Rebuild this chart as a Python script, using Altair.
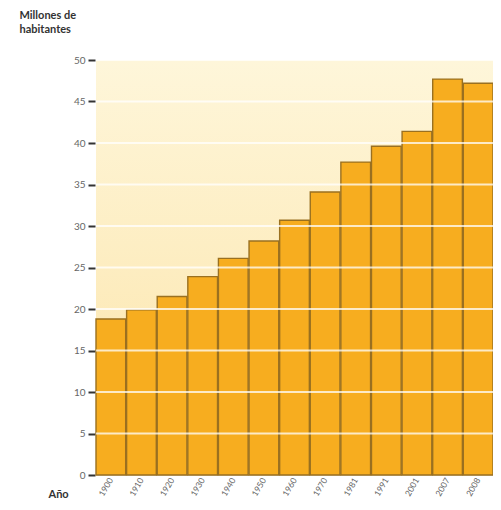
import altair as alt
import pandas as pd

years = ["1900", "1910", "1920", "1930", "1940", "1950", "1960", "1970", "1981", "1991", "2001", "2007", "2008"]
population = [18.8, 19.9, 21.5, 23.9, 26.1, 28.2, 30.7, 34.1, 37.7, 39.6, 41.4, 47.7, 47.2]
grid_values = [5, 10, 15, 20, 25, 30, 35, 40, 45, 50]

W, H = 397, 415

df = pd.DataFrame({"year": years, "pop": population})
gdf = pd.DataFrame({"v": grid_values})

bg = alt.Chart(gdf).mark_rect(
    color=alt.LinearGradient(
        gradient="linear", x1=0, x2=0, y1=0, y2=1,
        stops=[alt.GradientStop(color="#fef6da", offset=0),
               alt.GradientStop(color="#fce4a8", offset=1)],
    )
).encode(x=alt.value(0), x2=alt.value(W), y=alt.value(0), y2=alt.value(H))

bars = alt.Chart(df).mark_bar(
    color="#f7ad1f", stroke="#9a7020", strokeWidth=1.4
).encode(
    x=alt.X("year:N", sort=years,
            scale=alt.Scale(paddingInner=0.03, paddingOuter=0.0),
            axis=alt.Axis(title="Año", labelAngle=-60, labelAlign="right", labelBaseline="middle",
                          labelFontSize=8.5, labelColor="#666", ticks=False, domain=False,
                          labelPadding=3,
                          titleFontSize=11, titleFontWeight="bold", titleColor="#333",
                          titleAnchor="start", titleAlign="left", titleX=-48, titleY=19,
                          titleBaseline="middle")),
    y=alt.Y("pop:Q", scale=alt.Scale(domain=[0, 50], nice=False),
            axis=alt.Axis(title=["Millones de", "habitantes"], values=list(range(0, 51, 5)),
                          grid=False, domain=False, tickSize=7, tickWidth=2, tickColor="#333",
                          tickOffset=0, labelPadding=3,
                          labelFontSize=10, labelColor="#666",
                          titleAngle=0, titleAlign="left", titleBaseline="top",
                          titleX=-76, titleY=-51, titleFontSize=11, titleFontWeight="bold",
                          titleColor="#333", titleLineHeight=14, offset=1)),
)

grid = alt.Chart(gdf).mark_rule(color="#ffffff", strokeWidth=2, opacity=0.75).encode(
    y=alt.Y("v:Q", scale=alt.Scale(domain=[0, 50], nice=False))
)

chart = alt.layer(bg, bars, grid).properties(
    width=W, height=H,
    autosize=alt.AutoSizeParams(type="none"),
    padding={"left": 88, "top": 52, "right": 0, "bottom": 27},
).configure_view(stroke=None).configure(font="Lato")

chart.save("out.html", embed_options={"renderer": "svg", "actions": False})
